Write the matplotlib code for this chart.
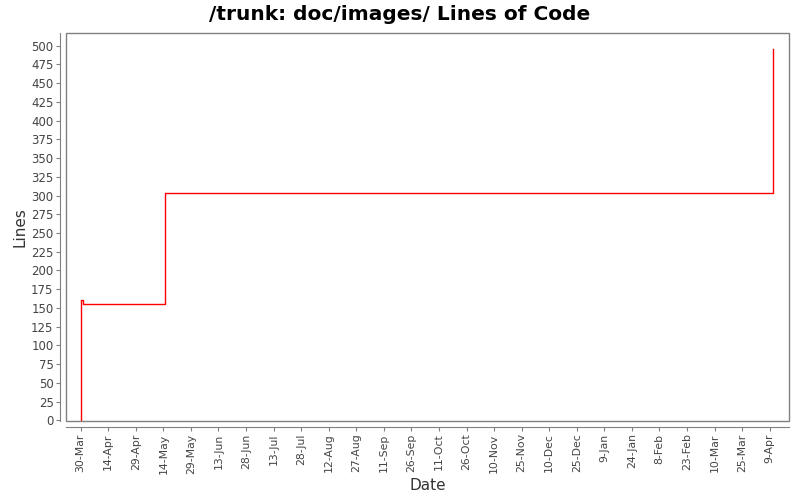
import matplotlib
matplotlib.use("Agg")
import matplotlib.pyplot as plt
from matplotlib.patches import Rectangle
import pandas as pd

# lines of code over time (step chart)
dates = pd.to_datetime(["2006-03-30", "2006-03-30", "2006-03-31", "2006-05-15", "2007-04-11"])
lines = [0, 160, 155, 303, 495]

tick_start = pd.Timestamp("2006-03-30")
tick_dates = pd.date_range(tick_start, periods=26, freq="15D")
tick_labels = [f"{d.day}-{d.strftime('%b')}" for d in tick_dates]

grey = "#808080"
txt = "#444444"

fig = plt.figure(figsize=(8, 5), dpi=100)
ax = fig.add_axes([0.0825, 0.158, 0.9035, 0.776])

ax.plot(dates, lines, drawstyle="steps-post", color="#ff0000", lw=1.0)

ax.set_xlim(pd.Timestamp("2006-03-22"), pd.Timestamp("2007-04-19 10:00"))
ax.set_ylim(-1, 517)

ax.set_xticks(tick_dates, tick_labels)
ax.set_yticks(range(0, 501, 25), [str(v) for v in range(0, 501, 25)])

for s in ["top", "right"]:
    ax.spines[s].set_visible(False)
for s in ["left", "bottom"]:
    ax.spines[s].set_position(("outward", 4))
    ax.spines[s].set_color(grey)
ax.add_patch(Rectangle((0, 0), 1, 1, transform=ax.transAxes, fill=False,
                       edgecolor=grey, lw=1.0, clip_on=False, zorder=5))
ax.tick_params(axis="both", colors=grey, length=3, width=0.8, labelcolor=txt, pad=2)
ax.tick_params(axis="x", labelrotation=90, labelsize=7.8)
ax.tick_params(axis="y", labelsize=8.5)

ax.set_xlabel("Date", fontsize=11, color="#333333", va="center")
ax.set_ylabel("Lines", fontsize=11, color="#333333", va="center")
ax.xaxis.set_label_coords(0.5, -0.165)
ax.yaxis.set_label_coords(-0.064, 0.5)
fig.suptitle("/trunk: doc/images/ Lines of Code", fontsize=14.5, fontweight="bold", y=0.99)

fig.savefig("out.png", dpi=100, facecolor="white")
